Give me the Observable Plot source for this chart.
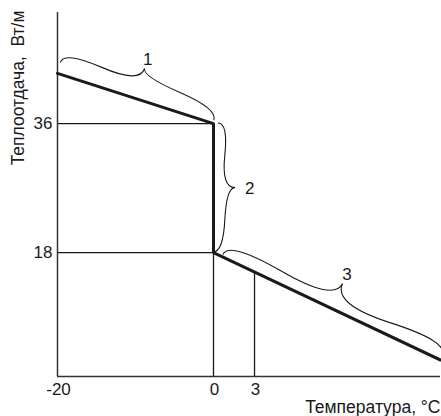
<!DOCTYPE html>
<html>
<head>
<meta charset="utf-8">
<script src="https://cdn.jsdelivr.net/npm/d3@7"></script>
<script src="https://cdn.jsdelivr.net/npm/@observablehq/plot@0.6"></script>
<style>
  html, body { margin: 0; padding: 0; background: #fff; }
  svg { display: block; }
</style>
</head>
<body>
<div id="chart"></div>
<script>
// ---- data ----
const curveX = [-20, 0, 0, 16.6];      // temperature, °C
const curveY = [43, 36, 18, 3];        // heat output, W/m
const guideLevels = [36, 18];          // horizontal guide lines (to x = 0)
const markX = [0, 3];                  // vertical guide lines
const markTop = [18, 15.3];            // where they meet the curve
const xTicks = [-20, 0, 3];
const xTickLabels = ["-20", "0", "3"];
const yTicks = [18, 36];
const braceLabels = ["1", "2", "3"];
const xLabel = "Температура, °C";
const yLabel = "Теплоотдача,  Вт/м";
const yMin = 0.7, yMax = 51.5, xMin = -20, xMax = 16.6;

const curve = curveX.map((x, i) => ({x, y: curveY[i]}));
const marks = markX.map((x, i) => ({x, top: markTop[i]}));
const fmtX = d => xTickLabels[xTicks.indexOf(d)];

const ink = "#1a1a1a";
const chart = Plot.plot({
  width: 441,
  height: 416,
  marginLeft: 57, marginRight: 1, marginTop: 12, marginBottom: 40,
  style: {fontFamily: "'Liberation Sans', Arial, sans-serif", fontSize: "17px", color: ink, background: "#fff"},
  x: {type: "linear", domain: [xMin, 0, xMax], range: [57, 213, 440]},
  y: {type: "linear", domain: [yMin, yMax], range: [376, 12]},
  marks: [
    Plot.ruleY(guideLevels, {x1: xMin, x2: 0, stroke: ink, strokeWidth: 1.3}),
    Plot.ruleX(marks, {x: "x", y1: yMin, y2: "top", stroke: ink, strokeWidth: 1.3}),
    Plot.ruleX([xMin], {y1: yMin, y2: yMax, stroke: "#333", strokeWidth: 1.5}),
    Plot.ruleY([yMin], {x1: xMin, x2: xMax, stroke: "#333", strokeWidth: 1.5}),
    Plot.line(curve, {x: "x", y: "y", stroke: ink, strokeWidth: 3, strokeLinejoin: "miter"}),
    Plot.axisX({ticks: xTicks, tickFormat: fmtX, tickSize: 0, tickPadding: 6, label: null, fontSize: 17, dx: 1}),
    Plot.axisY({ticks: yTicks, tickSize: 0, tickPadding: 5, label: null, fontSize: 17}),
    Plot.text([xLabel], {frameAnchor: "bottom-right", dy: 31, textAnchor: "end", lineAnchor: "middle", fontSize: 17.5, fill: ink}),
    Plot.text([yLabel], {frameAnchor: "top-left", dx: -39, dy: -2, rotate: -90, textAnchor: "end", lineAnchor: "middle", fontSize: 17.5, fill: ink})
  ]
});
document.getElementById("chart").append(chart);

// ---- curly braces over the three parts of the curve, placed through Plot's scales ----
const sx = chart.scale("x"), sy = chart.scale("y");
const P = (x, y) => [sx.apply(x), sy.apply(y)];
const segs = [
  {a: P(curveX[0], curveY[0]), b: P(curveX[1], curveY[1]), offA: [0, 11], offB: [0, 3], w: 20, t: 0.5},
  {a: P(curveX[1], curveY[1]), b: P(curveX[2], curveY[2]), offA: [0, 5], offB: [0, 0], w: 17, t: 0.5},
  {a: P(curveX[2], curveY[2]), b: P(curveX[3], curveY[3]), offA: [10, 2], offB: [0, 5], w: 25, t: 0.5}
];
const svg = d3.select(chart);
const g = svg.append("g");
segs.forEach((s, i) => {
  let dx = s.b[0] - s.a[0], dy = s.b[1] - s.a[1];
  const L0 = Math.hypot(dx, dy);
  const u = [dx / L0, dy / L0];
  const n = [u[1], -u[0]];
  const A = [s.a[0] + u[0] * s.offA[0] + n[0] * s.offA[1], s.a[1] + u[1] * s.offA[0] + n[1] * s.offA[1]];
  const B = [s.b[0] - u[0] * s.offB[0] + n[0] * s.offB[1], s.b[1] - u[1] * s.offB[0] + n[1] * s.offB[1]];
  const L = Math.hypot(B[0] - A[0], B[1] - A[1]);
  const q = 0.6, w = s.w, t = s.t;
  const pt = (along, out) => [A[0] + u[0] * along + n[0] * out, A[1] + u[1] * along + n[1] * out];
  const tip = pt(t * L, w);
  const c1 = [A[0] + n[0] * q * w, A[1] + n[1] * q * w];
  const m1 = pt(t * L / 2, (1 - q) * w);
  const c2 = [B[0] + n[0] * q * w, B[1] + n[1] * q * w];
  const m2 = pt(t * L + (1 - t) * L / 2, (1 - q) * w);
  const d = `M${A}Q${c1} ${m1}T${tip}M${B}Q${c2} ${m2}T${tip}`;
  g.append("path").attr("d", d).attr("fill", "none").attr("stroke", ink).attr("stroke-width", 1.1);
  const lab = [tip[0] + n[0] * 10, tip[1] + n[1] * 10];
  g.append("text").attr("x", lab[0]).attr("y", lab[1]).attr("dy", "0.35em")
    .attr("text-anchor", i === 1 ? "start" : "middle")
    .attr("font-size", 17).attr("fill", ink).text(braceLabels[i]);
});
</script>
</body>
</html>
